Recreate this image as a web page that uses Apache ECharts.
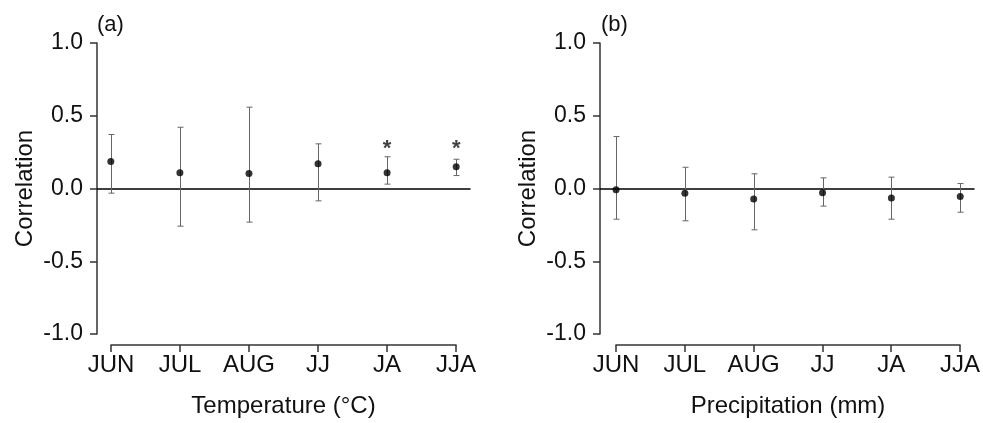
<!DOCTYPE html>
<html>
<head>
<meta charset="utf-8">
<script src="https://cdn.jsdelivr.net/npm/echarts@6/dist/echarts.min.js"></script>
<style>html,body{margin:0;padding:0;background:#fff;}#c{width:983px;height:423px;}</style>
</head>
<body>
<div id="c"></div>
<script>
const categories = ['JUN', 'JUL', 'AUG', 'JJ', 'JA', 'JJA'];
const tempCorr  = [0.186, 0.108, 0.103, 0.170, 0.108, 0.149];
const tempUpper = [0.371, 0.421, 0.559, 0.307, 0.218, 0.201];
const tempLower = [-0.032, -0.259, -0.231, -0.085, 0.030, 0.089];
const tempSig   = [false, false, false, false, true, true];
const precCorr  = [-0.009, -0.032, -0.073, -0.030, -0.066, -0.055];
const precUpper = [0.357, 0.146, 0.101, 0.073, 0.078, 0.034];
const precLower = [-0.211, -0.222, -0.284, -0.121, -0.211, -0.163];
const precSig   = [false, false, false, false, false, false];
const yMin = -1.0, yMax = 1.0, yStep = 0.5;
const starLevel = 0.27;
const panelLabels = ['(a)', '(b)'];
const xNames = ['Temperature (°C)', 'Precipitation (mm)'];
const yName = 'Correlation';

const FONT = 'Liberation Sans, Arial, sans-serif';
const chart = echarts.init(document.getElementById('c'), null, {renderer: 'canvas'});

const grids = [
  {left: 97, top: 43, width: 373, height: 291},
  {left: 600, top: 43, width: 374, height: 291},
  {left: 111, top: 344, width: 345, height: 1},
  {left: 616, top: 344, width: 344, height: 1}
];
const xRanges = [[-0.2, 5.2], [-0.233, 5.2]];

const xAxes = [], yAxes = [], series = [];
[0, 1].forEach(p => {
  xAxes.push({
    type: 'value', gridIndex: p, min: xRanges[p][0], max: xRanges[p][1],
    axisLine: {show: true, onZero: true, lineStyle: {color: '#000', width: 1.5}},
    axisTick: {show: false}, axisLabel: {show: false}, splitLine: {show: false}
  });
  yAxes.push({
    type: 'value', gridIndex: p, min: yMin, max: yMax, interval: yStep,
    name: yName, nameLocation: 'middle', nameGap: 60,
    nameTextStyle: {fontFamily: FONT, fontSize: 24, color: '#111'},
    axisLine: {show: true, onZero: false, lineStyle: {color: '#333', width: 1.5}},
    axisTick: {show: true, length: 7, lineStyle: {color: '#333', width: 1.5}},
    axisLabel: {fontFamily: FONT, fontSize: 23, color: '#111', margin: 14,
      formatter: v => v.toFixed(1)},
    splitLine: {show: false}
  });
});
[0, 1].forEach(p => {
  xAxes.push({
    type: 'category', gridIndex: p + 2, data: categories, boundaryGap: false,
    position: 'bottom',
    name: xNames[p], nameLocation: 'middle', nameGap: 49,
    nameTextStyle: {fontFamily: FONT, fontSize: 24, color: '#111'},
    axisLine: {show: true, lineStyle: {color: '#333', width: 1.5}},
    axisTick: {show: true, length: 7, inside: false, alignWithLabel: true, lineStyle: {color: '#333', width: 1.5}},
    axisLabel: {fontFamily: FONT, fontSize: 24, color: '#111', margin: 8, interval: 0},
    splitLine: {show: false}
  });
  yAxes.push({type: 'value', gridIndex: p + 2, show: false, min: 0, max: 1});
});

const sets = [
  {corr: tempCorr, up: tempUpper, lo: tempLower, sig: tempSig},
  {corr: precCorr, up: precUpper, lo: precLower, sig: precSig}
];
sets.forEach((s, p) => {
  series.push({
    type: 'custom', xAxisIndex: p, yAxisIndex: p, silent: true,
    data: categories.map((c, i) => [i, s.lo[i], s.up[i]]),
    renderItem: (params, api) => {
      const i = api.value(0);
      const a = api.coord([i, api.value(1)]);
      const b = api.coord([i, api.value(2)]);
      const x = Math.round(a[0]) + 0.5;
      const st = {stroke: '#666', lineWidth: 1};
      return {type: 'group', children: [
        {type: 'line', shape: {x1: x, y1: a[1], x2: x, y2: b[1]}, style: st},
        {type: 'line', shape: {x1: x - 3, y1: a[1], x2: x + 3, y2: a[1]}, style: st},
        {type: 'line', shape: {x1: x - 3, y1: b[1], x2: x + 3, y2: b[1]}, style: st}
      ]};
    },
    z: 3
  });
  series.push({
    type: 'scatter', xAxisIndex: p, yAxisIndex: p, silent: true,
    symbol: 'circle', symbolSize: 7,
    itemStyle: {color: '#000'},
    data: categories.map((c, i) => [i, s.corr[i]]),
    z: 5
  });
  series.push({
    type: 'scatter', xAxisIndex: p, yAxisIndex: p, silent: true,
    symbolSize: 0,
    data: categories.map((c, i) => [i, starLevel, s.sig[i]]).filter(d => d[2]),
    label: {show: true, position: 'inside', formatter: '*', fontFamily: FONT, fontSize: 22, fontWeight: 'bold', color: '#111'},
    z: 5
  });
});

chart.setOption({
  backgroundColor: '#fff',
  animation: false,
  grid: grids,
  xAxis: xAxes,
  yAxis: yAxes,
  series: series,
  graphic: [
    {type: 'text', left: 97, top: 14, style: {text: panelLabels[0], font: '22px ' + FONT, fill: '#111'}},
    {type: 'text', left: 601, top: 14, style: {text: panelLabels[1], font: '22px ' + FONT, fill: '#111'}}
  ]
});
</script>
</body>
</html>
